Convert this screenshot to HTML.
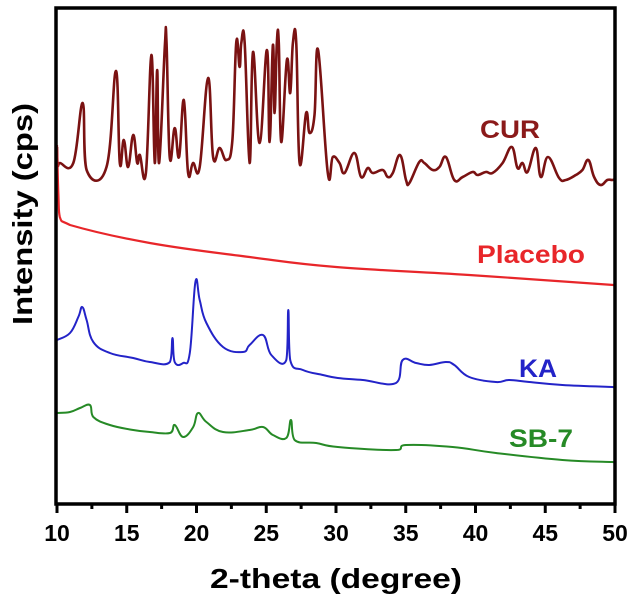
<!DOCTYPE html>
<html><head><meta charset="utf-8"><style>
html,body{margin:0;padding:0;background:#fff;}
svg{display:block;font-family:"Liberation Sans",Arial,sans-serif;font-weight:bold;}
</style></head><body>
<svg id="chart" width="632" height="602" viewBox="0 0 632 602">
<g id="series"></g>
<rect x="56" y="8" width="559" height="496" fill="none" stroke="#000" stroke-width="3.5"/>
<g id="xticks"></g>
<text x="336" y="588" font-size="28" text-anchor="middle" textLength="252" lengthAdjust="spacingAndGlyphs">2-theta (degree)</text>
<text transform="translate(32,214) rotate(-90)" font-size="28" text-anchor="middle" textLength="222" lengthAdjust="spacingAndGlyphs">Intensity (cps)</text>
<text x="480" y="138" font-size="25" fill="#8b1a1a" textLength="60" lengthAdjust="spacingAndGlyphs">CUR</text>
<text x="477" y="263" font-size="25" fill="#e8262a" textLength="108" lengthAdjust="spacingAndGlyphs">Placebo</text>
<text x="519" y="377" font-size="25" fill="#2323c8" textLength="38" lengthAdjust="spacingAndGlyphs">KA</text>
<text x="509" y="447" font-size="25" fill="#268a26" textLength="64" lengthAdjust="spacingAndGlyphs">SB-7</text>
</svg>
<script>
const xTicks=[10,15,20,25,30,35,40,45,50];
const xMinor=[12.5,17.5,22.5,27.5,32.5,37.5,42.5,47.5];
const curX=[10.0,10.05,10.2,11.17,11.84,12.12,13.55,14.22,14.5,14.79,15.1,15.46,15.75,15.94,16.37,16.77,17.01,17.18,17.32,17.73,17.85,18.08,18.44,18.75,19.09,19.4,19.75,20.23,20.83,21.19,21.66,22.14,22.57,22.85,23.09,23.21,23.45,23.81,24.05,24.52,25.05,25.24,25.48,25.6,25.76,25.9,26.07,26.48,26.72,26.91,27.15,27.39,27.86,28.1,28.46,28.72,29.41,29.77,30.25,30.61,31.32,31.8,32.28,32.64,33.35,33.71,34.07,34.59,35.02,35.26,35.97,36.33,36.93,37.41,37.88,38.48,39.08,39.79,40.15,40.74,41.22,41.94,42.6,43.01,43.37,43.73,44.32,44.68,45.2,45.99,46.47,47.19,47.66,48.09,48.5,48.97,49.45,49.81,50];
const curY=[358,340,342,342,402,335,338,434,342,365,338,370,342,350,332,450,342,435,342,458,463,348,377,348,405,332,342,338,427,348,357,345,365,463,438,462,463,342,453,362,455,363,460,392,463,462,363,445,412,462,463,342,392,372,390,455,332,348,342,332,352,328,337,332,335,328,332,350,325,322,343,342,335,338,348,325,328,333,330,333,332,342,358,337,342,333,357,328,348,327,325,330,335,345,328,320,325,325,326];
const plaX=[10.0,10.1,10.2,10.93,16.65,23.8,30.0,39.55,49.9,50];
const plaY=[360,310,288,280,262,248,238,230,220,220];
const kaX=[10.0,10.93,11.53,11.81,12.12,12.6,13.79,15.46,16.66,18.09,18.28,18.44,19.04,19.52,19.92,20.23,20.71,21.9,23.33,23.81,24.77,25.36,26.44,26.58,26.72,27.63,29.06,30.13,31.92,34.3,34.78,35.74,36.69,37.88,38.48,39.55,41.46,42.42,43.85,46.23,49.81,50];
const kaY=[165,172,188,198,185,163,152,147,143,143,167,143,142,152,223,205,182,158,153,160,170,150,145,195,145,135,130,127,125,122,145,142,140,143,140,128,123,125,123,120,118,118];
const sbX=[10.0,10.93,11.65,12.36,12.6,13.79,15.46,16.66,18.09,18.44,19.04,19.76,20.11,20.71,21.9,23.81,24.77,25.48,26.44,26.77,27.03,28.58,30.13,34.3,35.02,38.36,41.46,46.23,49.81,50];
const sbY=[92,93,97,100,88,80,75,73,72,80,68,78,92,83,73,75,78,70,67,85,65,62,58,55,60,58,52,45,43,43];

const NS="http://www.w3.org/2000/svg";
const xs=d=>57+(d-10)*(558/40);
const ys=v=>505-v;
const g=document.getElementById('series');
function smoothPath(X,Y){
  const P=X.map((x,i)=>[xs(x),ys(Y[i])]);
  let d='M'+P[0][0].toFixed(1)+','+P[0][1].toFixed(1);
  for(let i=0;i<P.length-1;i++){
    const p0=P[i-1]||P[i],p1=P[i],p2=P[i+1],p3=P[i+2]||P[i+1];
    const t=0.2;
    let c1x=p1[0]+(p2[0]-p0[0])*t,c1y=p1[1]+(p2[1]-p0[1])*t;
    let c2x=p2[0]-(p3[0]-p1[0])*t,c2y=p2[1]-(p3[1]-p1[1])*t;
    c1x=Math.min(Math.max(c1x,p1[0]),p2[0]);c2x=Math.min(Math.max(c2x,p1[0]),p2[0]);
    d+=' C'+c1x.toFixed(1)+','+c1y.toFixed(1)+' '+c2x.toFixed(1)+','+c2y.toFixed(1)+' '+p2[0].toFixed(1)+','+p2[1].toFixed(1);
  }
  return d;
}
function line(X,Y,color,w,name){
  const p=document.createElementNS(NS,'path');
  p.setAttribute('d',smoothPath(X,Y));
  p.setAttribute('fill','none');p.setAttribute('stroke',color);
  p.setAttribute('stroke-width',w);p.setAttribute('stroke-linejoin','round');
  
  
  g.appendChild(p);
}
line(curX,curY,'#7a1212',2.6,'series-cur');
line(plaX,plaY,'#e8262a',2.2,'series-placebo');
line(kaX,kaY,'#2323c8',2,'series-ka');
line(sbX,sbY,'#268a26',2,'series-sb7');

const ax=document.getElementById('xticks');
xTicks.forEach(t=>{
  const l=document.createElementNS(NS,'line');
  l.setAttribute('x1',xs(t));l.setAttribute('x2',xs(t));l.setAttribute('y1',504);l.setAttribute('y2',513);
  l.setAttribute('stroke','#000');l.setAttribute('stroke-width',3);
  
  
  ax.appendChild(l);
  const tx=document.createElementNS(NS,'text');
  tx.setAttribute('x',xs(t));tx.setAttribute('y',541);tx.setAttribute('font-size',23);tx.setAttribute('text-anchor','middle');
  tx.textContent=t;
  
  
  ax.appendChild(tx);
});
xMinor.forEach(t=>{
  const l=document.createElementNS(NS,'line');
  l.setAttribute('x1',xs(t));l.setAttribute('x2',xs(t));l.setAttribute('y1',504);l.setAttribute('y2',509);
  l.setAttribute('stroke','#000');l.setAttribute('stroke-width',3);
  
  
  ax.appendChild(l);
});
</script>
</body></html>
